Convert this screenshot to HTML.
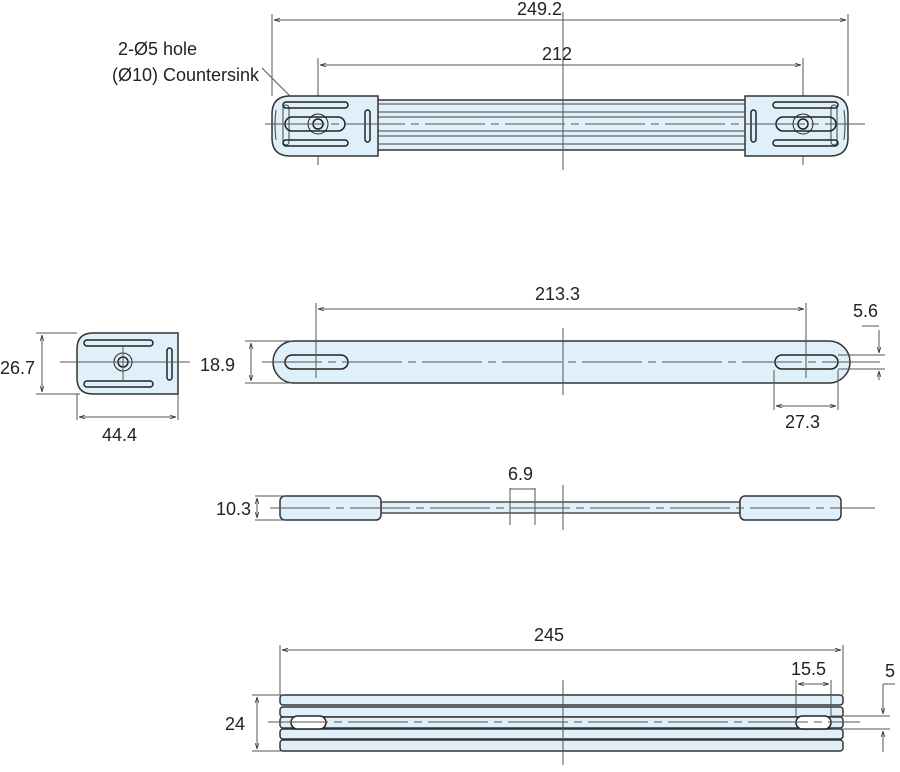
<!DOCTYPE html>
<html><head><style>
html,body{margin:0;padding:0;background:#fff;}
svg{display:block;}
text{font-family:"Liberation Sans",sans-serif;font-size:18px;fill:#222;}
</style></head><body>
<svg width="900" height="772" viewBox="0 0 900 772" xmlns="http://www.w3.org/2000/svg">
<defs>
<marker id="a" viewBox="0 0 10 10" refX="10" refY="5" markerWidth="6" markerHeight="6" orient="auto-start-reverse"><path d="M0,2 L10,5 L0,8" fill="none" stroke="#333" stroke-width="1.2"/></marker>
</defs>
<g stroke="#555" stroke-width="1" fill="none">
<line x1="272" y1="14" x2="272" y2="96"/><line x1="848" y1="14" x2="848" y2="96"/>
<line x1="274" y1="20" x2="846" y2="20" marker-start="url(#a)" marker-end="url(#a)"/>
<line x1="318" y1="58" x2="318" y2="165"/><line x1="803" y1="58" x2="803" y2="165"/>
<line x1="320" y1="65" x2="801" y2="65" marker-start="url(#a)" marker-end="url(#a)"/>
<line x1="262" y1="68" x2="314" y2="120"/>
</g>
<g stroke="#333" stroke-width="1.5" fill="#dff0fb">
<rect x="300" y="100" width="520" height="50"/>
<path d="M378,96 L290,96 Q272,96 272,114 L272,138 Q272,156 290,156 L378,156 Z"/>
<path d="M745,96 L830,96 Q848,96 848,114 L848,138 Q848,156 830,156 L745,156 Z"/>
</g>
<g stroke="#444" stroke-width="1" fill="none">
<line x1="378" y1="104" x2="745" y2="104"/><line x1="378" y1="112" x2="745" y2="112"/>
<line x1="378" y1="117" x2="745" y2="117"/><line x1="378" y1="131" x2="745" y2="131"/>
<line x1="378" y1="136" x2="745" y2="136"/><line x1="378" y1="144" x2="745" y2="144"/>
<path d="M276,110 Q274,124 276,140" /><path d="M844,110 Q846,124 844,140"/>
<rect x="283" y="105" width="6" height="40" rx="3"/><rect x="831" y="105" width="6" height="40" rx="3"/>
</g>
<g stroke="#222" stroke-width="1.5" fill="none">
<rect x="283" y="102" width="65" height="6" rx="3"/><rect x="283" y="140" width="65" height="6" rx="3"/>
<rect x="773" y="102" width="65" height="6" rx="3"/><rect x="773" y="140" width="65" height="6" rx="3"/>
<rect x="365" y="110" width="5" height="32" rx="2.5"/><rect x="751" y="110" width="5" height="32" rx="2.5"/>
<rect x="285" y="117" width="60" height="14" rx="7"/><rect x="776" y="117" width="60" height="14" rx="7"/>
<circle cx="318" cy="124" r="5"/><circle cx="318" cy="124" r="10" stroke-width="1"/>
<circle cx="803" cy="124" r="5"/><circle cx="803" cy="124" r="10" stroke-width="1"/>
</g>
<g stroke="#555" stroke-width="1" stroke-dasharray="60,6,8,6">
<line x1="265" y1="124" x2="865" y2="124"/>
<line x1="563" y1="12" x2="563" y2="170" stroke-dasharray="none"/>
</g>
<text x="517" y="15">249.2</text>
<text x="542" y="60">212</text>
<text x="118" y="55">2-Ø5 hole</text>
<text x="112" y="81">(Ø10) Countersink</text>

<path d="M93,333 L178,333 L178,394 L93,394 Q77,394 77,378 L77,349 Q77,333 93,333 Z" fill="#dff0fb" stroke="#333" stroke-width="1.5"/>
<g stroke="#222" stroke-width="1.5" fill="none">
<rect x="84" y="340" width="69" height="6" rx="3"/><rect x="84" y="381" width="69" height="6" rx="3"/>
<rect x="167" y="348" width="5" height="32" rx="2.5"/>
<circle cx="123" cy="362" r="5"/><circle cx="123" cy="362" r="9" stroke-width="1"/>
</g>
<g stroke="#555" stroke-width="1" fill="none">
<line x1="60" y1="362" x2="190" y2="362"/><line x1="123" y1="345" x2="123" y2="380"/>
<line x1="36" y1="333" x2="77" y2="333"/><line x1="36" y1="394" x2="80" y2="394"/>
<line x1="42" y1="335" x2="42" y2="392" marker-start="url(#a)" marker-end="url(#a)"/>
<line x1="77" y1="394" x2="77" y2="420"/><line x1="178" y1="394" x2="178" y2="420"/>
<line x1="79" y1="417" x2="176" y2="417" marker-start="url(#a)" marker-end="url(#a)"/>
</g>
<text x="0" y="374">26.7</text>
<text x="102" y="441">44.4</text>

<rect x="273" y="341" width="577" height="42" rx="21" fill="#dff0fb" stroke="#333" stroke-width="1.5"/>
<g stroke="#222" stroke-width="1.5" fill="none">
<rect x="285" y="355" width="63" height="14" rx="7"/><rect x="775" y="355" width="63" height="14" rx="7"/>
</g>
<g stroke="#555" stroke-width="1" fill="none">
<line x1="262" y1="362" x2="880" y2="362" stroke-dasharray="60,6,8,6"/>
<line x1="563" y1="328" x2="563" y2="395"/>
<line x1="316" y1="303" x2="316" y2="378"/><line x1="806" y1="303" x2="806" y2="378"/>
<line x1="318" y1="309" x2="804" y2="309" marker-start="url(#a)" marker-end="url(#a)"/>
<line x1="245" y1="341" x2="292" y2="341"/><line x1="245" y1="383" x2="292" y2="383"/>
<line x1="251" y1="343" x2="251" y2="381" marker-start="url(#a)" marker-end="url(#a)"/>
<line x1="774" y1="370" x2="774" y2="410"/><line x1="838" y1="370" x2="838" y2="410"/>
<line x1="776" y1="406" x2="836" y2="406" marker-start="url(#a)" marker-end="url(#a)"/>
<line x1="838" y1="355" x2="885" y2="355"/><line x1="838" y1="369" x2="885" y2="369"/>
<line x1="879" y1="330" x2="879" y2="353" marker-end="url(#a)"/><line x1="879" y1="380" x2="879" y2="371" marker-end="url(#a)"/>
<line x1="879" y1="326" x2="862" y2="326"/>
</g>
<text x="535" y="300">213.3</text>
<text x="200" y="371">18.9</text>
<text x="785" y="428">27.3</text>
<text x="853" y="317">5.6</text>

<rect x="381" y="502" width="359" height="11" fill="#dff0fb" stroke="#333" stroke-width="1.3"/>
<rect x="280" y="496" width="101" height="24" rx="5" fill="#dff0fb" stroke="#333" stroke-width="1.5"/>
<rect x="740" y="496" width="101" height="24" rx="5" fill="#dff0fb" stroke="#333" stroke-width="1.5"/>
<g stroke="#555" stroke-width="1" fill="none">
<line x1="270" y1="508" x2="875" y2="508" stroke-dasharray="60,6,8,6"/>
<line x1="563" y1="485" x2="563" y2="530"/>
<line x1="510" y1="488" x2="510" y2="525"/><line x1="535" y1="488" x2="535" y2="525"/>
<line x1="510" y1="489" x2="535" y2="489"/>
<line x1="255" y1="496" x2="285" y2="496"/><line x1="255" y1="520" x2="285" y2="520"/>
<line x1="257" y1="498" x2="257" y2="518" marker-start="url(#a)" marker-end="url(#a)"/>
</g>
<text x="508" y="480">6.9</text>
<text x="216" y="515">10.3</text>

<g fill="#dff0fb" stroke="#333" stroke-width="1.5">
<rect x="280" y="695" width="563" height="10" rx="3"/>
<rect x="280" y="707" width="563" height="10" rx="3"/>
<rect x="280" y="717" width="563" height="11" rx="3"/>
<rect x="280" y="729" width="563" height="10" rx="3"/>
<rect x="280" y="740" width="563" height="11" rx="3"/>
</g>
<g stroke="#222" stroke-width="1.5" fill="#fff">
<rect x="291" y="716" width="35" height="13" rx="6.5"/><rect x="796" y="716" width="35" height="13" rx="6.5"/>
</g>
<g stroke="#555" stroke-width="1" fill="none">
<line x1="268" y1="722" x2="860" y2="722" stroke-dasharray="60,6,8,6"/>
<line x1="563" y1="680" x2="563" y2="765"/>
<line x1="280" y1="645" x2="280" y2="695"/><line x1="843" y1="645" x2="843" y2="695"/>
<line x1="282" y1="650" x2="841" y2="650" marker-start="url(#a)" marker-end="url(#a)"/>
<line x1="796" y1="680" x2="796" y2="716"/><line x1="831" y1="680" x2="831" y2="716"/>
<line x1="798" y1="684" x2="829" y2="684" marker-start="url(#a)" marker-end="url(#a)"/>
<line x1="252" y1="695" x2="282" y2="695"/><line x1="252" y1="751" x2="282" y2="751"/>
<line x1="257" y1="697" x2="257" y2="749" marker-start="url(#a)" marker-end="url(#a)"/>
<line x1="831" y1="716" x2="890" y2="716"/><line x1="831" y1="729" x2="890" y2="729"/>
<line x1="883" y1="684" x2="883" y2="714" marker-end="url(#a)"/><line x1="883" y1="752" x2="883" y2="731" marker-end="url(#a)"/>
<line x1="883" y1="684" x2="895" y2="684"/>
</g>
<text x="534" y="641">245</text>
<text x="791" y="675">15.5</text>
<text x="885" y="677">5</text>
<text x="225" y="730">24</text>
</svg>
</body></html>
